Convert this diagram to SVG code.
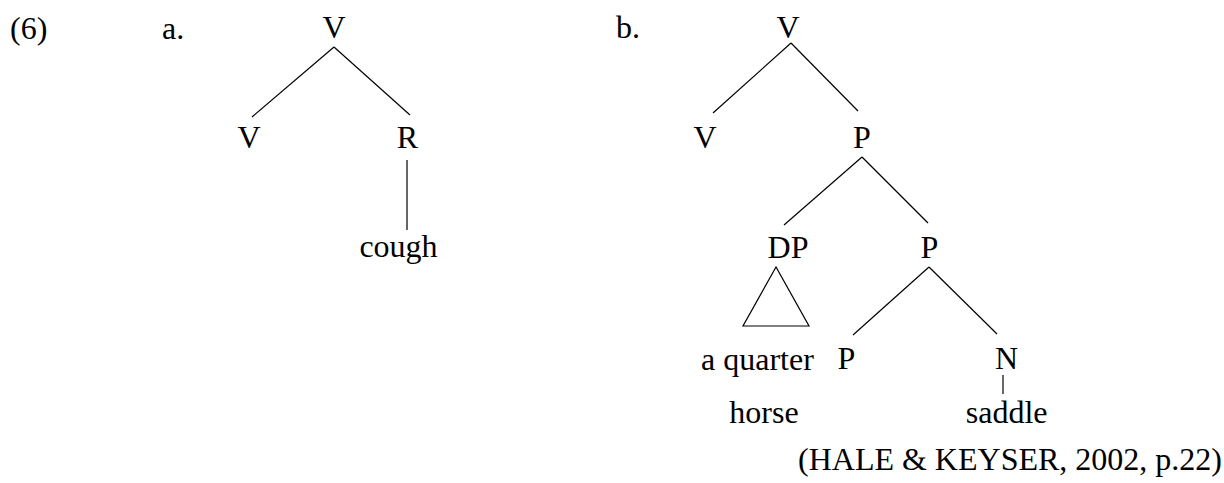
<svg xmlns="http://www.w3.org/2000/svg" width="1224" height="483" viewBox="0 0 1224 483">
<style>
text{font-size:32px;fill:#000}
.m{text-anchor:middle}
.e{stroke:#000;stroke-width:1.2;fill:none}
</style>
<rect width="1224" height="483" fill="#fff"/>
<text font-family="Times New Roman" x="10" y="39">(6)</text>
<text font-family="Times New Roman" x="162" y="39">a.</text>
<text font-family="Times New Roman" x="616" y="38">b.</text>
<g id="connectors">
<line class="e" x1="334" y1="47" x2="252" y2="117"/>
<line class="e" x1="334" y1="47" x2="410" y2="115"/>
<line class="e" x1="407" y1="160" x2="407" y2="230"/>
<line class="e" x1="791" y1="43" x2="713" y2="113"/>
<line class="e" x1="791" y1="43" x2="858" y2="111"/>
<line class="e" x1="862" y1="157" x2="784" y2="225"/>
<line class="e" x1="862" y1="157" x2="928" y2="223"/>
<polygon class="e" points="776,267 743,326 809,326"/>
<line class="e" x1="929" y1="267" x2="853" y2="335"/>
<line class="e" x1="929" y1="267" x2="997" y2="334"/>
<line class="e" x1="1003" y1="375" x2="1003" y2="394"/>
</g>
<g id="a-V"><text font-family="Times New Roman" class="m" x="334" y="38">V</text></g>
<g id="a-V2"><text font-family="Times New Roman" class="m" x="249" y="148">V</text></g>
<g id="a-R"><text font-family="Times New Roman" class="m" x="407.5" y="148">R</text></g>
<g id="a-cough"><text font-family="Times New Roman" class="m" x="398.5" y="257">cough</text></g>
<g id="b-V"><text font-family="Times New Roman" class="m" x="788" y="37.5">V</text></g>
<g id="b-V2"><text font-family="Times New Roman" class="m" x="705" y="148">V</text></g>
<g id="b-P"><text font-family="Times New Roman" class="m" x="862" y="148">P</text></g>
<g id="b-DP"><text font-family="Times New Roman" class="m" x="788" y="258">DP</text></g>
<g id="b-P2"><text font-family="Times New Roman" class="m" x="929.5" y="258">P</text></g>
<g id="b-aquarter"><text font-family="Times New Roman" x="701" y="370">a quarter</text></g>
<g id="b-horse"><text font-family="Times New Roman" class="m" x="764" y="423">horse</text></g>
<g id="b-P3"><text font-family="Times New Roman" class="m" x="846.5" y="369">P</text></g>
<g id="b-N"><text font-family="Times New Roman" class="m" x="1006.5" y="369">N</text></g>
<g id="b-saddle"><text font-family="Times New Roman" class="m" x="1006.7" y="423">saddle</text></g>
<text font-family="Times New Roman" x="798" y="470">(HALE &amp; KEYSER, 2002, p.22)</text>
</svg>
